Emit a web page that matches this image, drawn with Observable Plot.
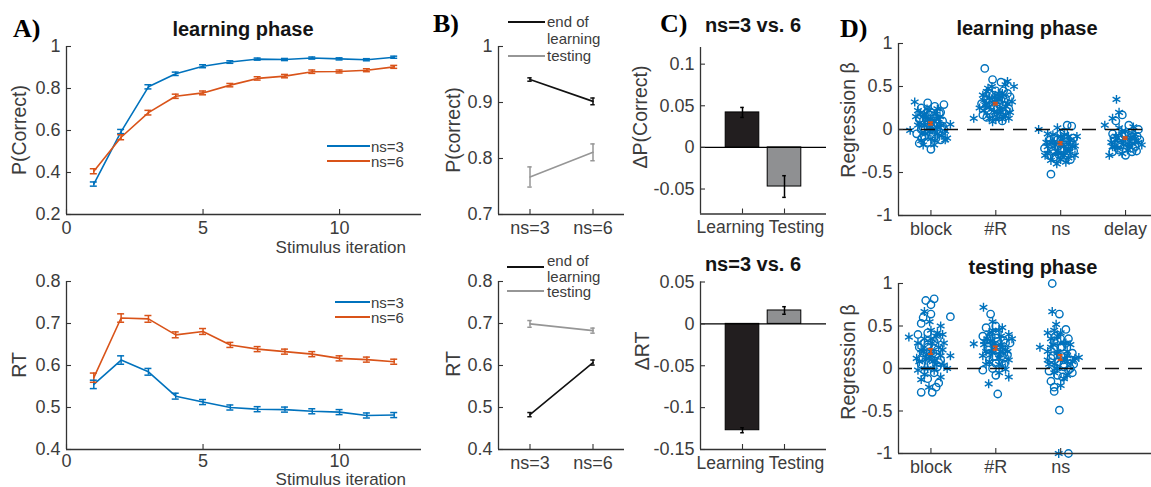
<!DOCTYPE html>
<html><head><meta charset="utf-8">
<script src="https://cdn.jsdelivr.net/npm/d3@7"></script>
<script src="https://cdn.jsdelivr.net/npm/@observablehq/plot@0.6"></script>
<style>
body{margin:0;background:#fff;}
#fig{position:relative;width:1151px;height:487px;overflow:hidden;font-family:"Liberation Sans",Arial,sans-serif;color:#3c3c3c;background:#fff;}
.abs{position:absolute;white-space:nowrap;line-height:1;}
.title{font-weight:bold;font-size:20px;color:#141414;transform:translate(-50%,-50%);}
.letter{font-family:"Liberation Serif","Times New Roman",serif;font-weight:bold;font-size:26px;color:#000;transform:translate(0,-50%);}
.ylab{font-size:19.5px;transform:translate(-50%,-50%) rotate(-90deg);}
.xlab{font-size:17px;transform:translate(-100%,-50%);}
.leg{font-size:15px;transform:translate(0,-50%);}
.legline{position:absolute;height:1.6px;}
</style></head><body><div id="fig"></div>
<script>
// ---------- data ----------
const iterations = [1,2,3,4,5,6,7,8,9,10,11,12];
const setSizes = ["ns=3", "ns=6"];
const pcNs3 = [0.345, 0.595, 0.808, 0.870, 0.906, 0.926, 0.940, 0.938, 0.945, 0.941, 0.937, 0.949];
const pcNs3Err = [0.010, 0.010, 0.010, 0.008, 0.007, 0.006, 0.005, 0.005, 0.005, 0.005, 0.005, 0.005];
const pcNs6 = [0.406, 0.568, 0.685, 0.763, 0.779, 0.816, 0.848, 0.859, 0.880, 0.881, 0.887, 0.903];
const pcNs6Err = [0.012, 0.012, 0.011, 0.010, 0.009, 0.008, 0.008, 0.008, 0.008, 0.007, 0.007, 0.007];
const rtNs3 = [0.555, 0.613, 0.585, 0.527, 0.513, 0.500, 0.496, 0.495, 0.491, 0.489, 0.481, 0.482];
const rtNs3Err = [0.010, 0.010, 0.008, 0.007, 0.006, 0.006, 0.006, 0.006, 0.006, 0.006, 0.006, 0.006];
const rtNs6 = [0.571, 0.713, 0.711, 0.673, 0.681, 0.649, 0.639, 0.633, 0.627, 0.617, 0.614, 0.609];
const rtNs6Err = [0.011, 0.010, 0.008, 0.007, 0.007, 0.006, 0.006, 0.006, 0.006, 0.006, 0.006, 0.006];

const phaseGroups = ["end of learning", "testing"];
const pcEndLearning = [0.941, 0.902];
const pcEndLearningErr = [0.003, 0.006];
const pcTesting = [0.767, 0.811];
const pcTestingErr = [0.018, 0.015];
const rtEndLearning = [0.483, 0.607];
const rtEndLearningErr = [0.005, 0.006];
const rtTesting = [0.699, 0.683];
const rtTestingErr = [0.008, 0.006];

const phaseLabels = ["Learning", "Testing"];
const dPc = [0.042, -0.047];
const dPcErr = [0.006, 0.013];
const dRt = [-0.127, 0.016];
const dRtErr = [0.003, 0.0045];

const regressorsLearn = ["block", "#R", "ns", "delay"];
const regressorsTest = ["block", "#R", "ns"];
const betaMeanLearn = [0.07, 0.30, -0.16, -0.10];
const betaSemLearn = [0.015, 0.012, 0.015, 0.012];
const betaMeanTest = [0.20, 0.24, 0.13];
const betaSemTest = [0.03, 0.02, 0.03];
// [offset from category, beta, marker (0 = circle, 1 = asterisk)]
const betaLearnBlock = [[-0.32,-0.01,1],[-0.25,0.32,1],[-0.05,0.31,0],[0.2,0.29,0],[0.0,-0.23,0],[0.3,0.06,1],[-0.2,0.22,1],[-0.15,0.25,0],[0.1,0.24,1],[0.15,0.2,0],[-0.1,0.18,1],[0.05,0.16,0],[-0.18,0.12,0],[0.12,0.12,1],[-0.05,0.1,1],[0.08,0.08,0],[-0.2,0.05,1],[0.18,0.04,0],[-0.12,0.02,0],[0.02,0.0,1],[0.22,-0.02,1],[-0.22,-0.05,0],[0.25,-0.1,1],[0.15,-0.12,0],[-0.15,-0.13,1],[-0.05,-0.15,0],[0.05,-0.18,1],[-0.1,-0.08,0],[0.1,-0.05,1],[0.0,0.2,0],[-0.08,0.14,1],[0.14,0.15,1],[-0.17,0.08,1],[0.03,0.05,0],[-0.02,-0.03,1],[0.2,0.0,0],[-0.23,0.15,1],[0.08,-0.1,0],[-0.12,-0.18,1],[0.18,0.1,0],[0.0,0.12,1],[-0.06,0.24,1],[0.06,0.27,0],[0.22,-0.12,1],[-0.18,-0.16,0],[0.1,0.02,1],
  [-0.15,0.0,0],[-0.1,0.05,1],[-0.05,0.08,0],[0.0,0.03,1],[0.05,0.1,1],[0.1,0.07,0],[0.15,0.05,1],[-0.12,0.15,1],[-0.02,0.17,0],[0.08,0.18,1],[0.12,-0.02,0],[-0.08,-0.05,1],[0.02,-0.08,0],[-0.14,-0.1,0],[0.06,-0.13,1],[-0.03,0.22,1],[0.04,0.13,0],[-0.07,0.11,0],[0.13,0.19,0],[-0.16,0.19,1],[0.0,-0.11,1],[0.09,0.0,1],[-0.1,-0.01,0],[0.17,-0.07,1]];
const betaLearnR = [[-0.17,0.71,0],[-0.34,0.13,1],[0.28,0.5,1],[-0.05,0.58,0],[0.08,0.55,0],[0.2,0.24,0],[0.15,0.52,1],[-0.12,0.48,1],[0.0,0.45,0],[-0.2,0.4,1],[0.1,0.42,1],[0.22,0.38,0],[-0.15,0.35,0],[0.05,0.36,1],[-0.05,0.32,1],[0.18,0.3,1],[-0.22,0.3,0],[0.12,0.28,0],[-0.1,0.26,1],[0.02,0.24,0],[0.25,0.32,1],[-0.18,0.22,1],[0.08,0.2,1],[-0.08,0.18,0],[0.15,0.16,1],[-0.14,0.14,0],[0.0,0.12,1],[0.1,0.1,0],[-0.05,0.09,1],[0.2,0.13,1],[-0.2,0.17,0],[0.05,0.3,0],[-0.02,0.38,1],[0.12,0.45,0],[-0.1,0.42,0],[0.22,0.2,1],[-0.25,0.25,1],[0.03,0.18,1],[0.15,0.36,0],[-0.16,0.28,1],[0.07,0.15,0],[-0.06,0.5,1],[0.18,0.56,1],
  [-0.15,0.3,1],[-0.08,0.28,0],[0.0,0.32,1],[0.08,0.34,0],[0.15,0.27,1],[-0.12,0.22,0],[-0.02,0.2,1],[0.06,0.24,1],[0.12,0.2,0],[-0.18,0.34,1],[-0.05,0.4,0],[0.04,0.42,1],[0.1,0.38,1],[-0.1,0.36,1],[0.0,0.15,0],[-0.1,0.13,1],[0.1,0.12,1],[0.18,0.42,0],[-0.03,0.26,0],[0.03,0.35,1],[-0.14,0.44,1],[0.16,0.22,0]];
const betaLearnNs = [[-0.34,0.0,1],[-0.15,-0.52,0],[0.25,-0.08,1],[0.22,-0.19,1],[0.1,0.05,0],[0.17,0.04,0],[-0.05,0.02,1],[-0.2,-0.05,1],[0.05,-0.03,0],[-0.1,-0.1,0],[0.12,-0.08,1],[-0.22,-0.15,1],[0.0,-0.12,1],[0.15,-0.14,0],[-0.15,-0.2,0],[0.05,-0.2,1],[-0.05,-0.25,1],[0.2,-0.25,0],[-0.2,-0.28,1],[0.1,-0.3,0],[-0.1,-0.32,0],[0.0,-0.35,1],[0.15,-0.35,0],[-0.15,-0.36,1],[0.08,-0.38,1],[-0.02,-0.3,0],[0.22,-0.3,1],[-0.25,-0.22,0],[0.03,-0.16,0],[-0.08,-0.18,1],[0.18,-0.2,1],[-0.12,-0.06,1],[0.08,-0.1,0],[-0.18,-0.12,0],[0.0,-0.05,0],[0.12,-0.22,1],[-0.06,-0.4,1],[0.2,-0.1,0],[-0.24,-0.3,1],[0.05,-0.27,1],
  [-0.15,-0.15,1],[-0.08,-0.2,0],[0.0,-0.18,1],[0.08,-0.15,0],[0.14,-0.25,1],[-0.12,-0.25,0],[-0.03,-0.28,1],[0.05,-0.3,1],[-0.18,-0.3,0],[0.1,-0.2,0],[0.0,-0.08,1],[-0.1,-0.14,1],[0.06,-0.06,1],[-0.05,-0.12,0],[0.15,-0.12,1],[-0.2,-0.2,1],[0.02,-0.24,0],[-0.07,-0.34,0],[0.12,-0.33,1],[0.18,-0.16,0]];
const betaLearnDelay = [[-0.14,0.35,1],[-0.32,0.05,1],[0.0,-0.3,0],[-0.1,0.2,1],[-0.05,0.17,0],[-0.2,0.13,1],[-0.15,0.1,0],[0.05,0.05,0],[0.12,0.03,1],[0.2,0.0,0],[-0.1,0.02,1],[0.0,-0.02,1],[-0.2,-0.05,0],[0.15,-0.06,1],[-0.05,-0.08,0],[0.08,-0.1,1],[-0.15,-0.12,1],[0.22,-0.12,0],[0.0,-0.14,0],[-0.22,-0.15,1],[0.1,-0.16,1],[-0.08,-0.18,0],[0.25,-0.18,1],[0.15,-0.2,0],[-0.12,-0.22,1],[0.03,-0.24,1],[-0.2,-0.26,0],[0.1,-0.26,0],[-0.05,-0.28,1],[-0.25,-0.3,1],[0.18,-0.08,0],[-0.02,-0.06,0],[0.06,-0.18,1],[-0.17,-0.2,1],[0.12,-0.12,0],[-0.1,-0.1,0],
  [-0.15,-0.08,1],[-0.08,-0.12,0],[0.0,-0.1,1],[0.08,-0.14,0],[0.15,-0.1,1],[-0.12,-0.16,0],[-0.03,-0.18,1],[0.05,-0.2,1],[0.12,-0.22,0],[-0.18,-0.1,0],[0.0,-0.05,0],[-0.06,-0.02,1],[0.1,-0.04,1],[0.2,-0.15,1],[-0.1,-0.24,0],[0.03,-0.12,0],[-0.2,-0.2,1],[0.17,-0.25,0]];
const betaTestBlock = [[0.05,0.82,0],[-0.08,0.8,0],[0.0,0.75,0],[-0.1,0.67,1],[0.0,0.64,0],[0.3,0.61,0],[-0.12,0.6,0],[-0.15,0.53,0],[0.15,0.5,1],[-0.34,0.37,1],[0.3,0.15,1],[-0.15,-0.28,0],[0.02,-0.28,0],[0.08,-0.22,0],[0.12,-0.17,0],[-0.03,-0.22,1],[-0.15,-0.13,1],[0.0,0.45,1],[0.1,0.42,1],[-0.2,0.4,0],[0.18,0.4,1],[-0.1,0.35,1],[0.05,0.32,0],[-0.2,0.3,1],[0.2,0.3,1],[-0.05,0.28,0],[0.12,0.25,1],[-0.15,0.22,1],[0.0,0.2,1],[0.08,0.17,0],[-0.22,0.12,1],[0.15,0.1,0],[-0.08,0.1,1],[0.03,0.08,1],[-0.15,0.05,0],[0.2,0.04,1],[0.1,0.02,0],[-0.05,0.0,1],[0.25,0.0,1],[-0.2,-0.02,1],[0.05,-0.05,0],[-0.1,-0.07,1],[0.15,-0.1,1],[-0.05,-0.12,0],[0.0,0.15,1],[-0.12,0.18,0],[0.1,0.35,0],[-0.02,0.55,1],[0.08,0.05,1],[-0.18,0.25,0],
  [-0.12,0.2,1],[-0.05,0.25,0],[0.02,0.3,1],[0.1,0.22,0],[0.15,0.15,1],[-0.15,0.12,0],[-0.03,0.12,1],[0.06,0.1,1],[-0.1,0.3,0],[0.08,0.38,1],[-0.05,0.42,0],[0.0,0.05,0],[-0.1,0.0,1],[0.12,0.07,0],[0.18,0.22,1],[-0.18,0.08,1],[0.03,0.18,0],[-0.07,0.16,1],[0.05,-0.02,1],[0.0,0.35,1]];
const betaTestR = [[-0.19,0.72,1],[-0.08,0.64,0],[-0.34,0.29,1],[-0.11,-0.18,1],[0.03,-0.3,0],[0.2,-0.1,1],[0.18,0.16,0],[0.15,-0.01,1],[-0.05,0.55,1],[0.0,0.5,0],[0.1,0.48,1],[-0.15,0.48,0],[0.05,0.45,1],[-0.1,0.42,1],[0.2,0.4,1],[0.25,0.35,1],[-0.2,0.38,0],[0.0,0.36,0],[0.12,0.33,0],[-0.08,0.32,1],[-0.18,0.28,1],[0.08,0.28,1],[0.0,0.25,1],[-0.12,0.22,0],[0.15,0.22,1],[-0.05,0.18,1],[0.1,0.15,0],[-0.2,0.15,1],[0.05,0.12,1],[-0.1,0.1,0],[0.2,0.1,1],[0.0,0.06,0],[-0.15,0.05,1],[0.1,0.03,1],[-0.05,0.0,0],[-0.2,-0.02,0],[0.05,-0.05,1],[0.0,-0.08,0],[0.22,0.3,0],[-0.02,0.3,1],[0.13,0.05,0],[-0.07,0.38,0],[0.07,0.2,1],[-0.13,0.35,1],
  [-0.12,0.25,0],[-0.05,0.28,1],[0.02,0.22,0],[0.1,0.25,1],[0.15,0.3,0],[-0.15,0.2,1],[-0.03,0.14,0],[0.06,0.16,1],[-0.1,0.35,0],[0.08,0.38,1],[-0.05,0.45,1],[0.0,0.4,0],[-0.1,0.08,1],[0.12,0.12,0],[0.18,0.2,1],[-0.18,0.32,1],[0.03,0.32,0],[-0.07,0.2,1],[0.05,0.05,1]];
const betaTestNs = [[-0.13,1.0,0],[-0.13,0.67,1],[-0.02,0.64,0],[-0.07,0.52,1],[-0.32,0.25,1],[-0.02,-0.49,0],[-0.03,-1.0,1],[0.12,-1.0,0],[-0.1,-0.27,0],[-0.1,-0.22,0],[-0.15,-0.15,0],[0.0,-0.2,1],[0.05,-0.12,1],[-0.05,-0.08,0],[0.1,-0.08,1],[0.18,-0.05,0],[-0.18,-0.03,0],[0.28,0.13,1],[0.22,0.12,1],[-0.2,0.42,1],[-0.1,0.45,1],[0.0,0.42,1],[0.08,0.46,0],[0.12,0.35,0],[-0.15,0.35,1],[-0.05,0.32,0],[0.05,0.3,1],[-0.12,0.28,1],[0.15,0.28,1],[0.0,0.25,0],[-0.2,0.2,1],[0.1,0.2,1],[-0.05,0.18,1],[0.18,0.18,0],[-0.15,0.12,0],[0.0,0.1,1],[0.1,0.08,1],[-0.1,0.05,1],[0.05,0.02,0],[-0.05,0.0,1],[0.15,0.0,0],[-0.2,0.1,1],[0.2,0.05,0],[0.03,0.14,0],[-0.08,0.38,0],
  [-0.12,0.15,0],[-0.05,0.2,1],[0.02,0.25,0],[0.1,0.15,1],[0.15,0.1,0],[-0.15,0.25,1],[-0.03,0.08,0],[0.06,0.12,1],[-0.1,0.32,0],[0.08,0.3,1],[-0.05,0.38,1],[0.0,0.35,0],[-0.1,-0.05,1],[0.12,-0.02,0],[0.18,0.08,1],[-0.18,0.05,1],[0.03,-0.1,0],[-0.07,0.0,1],[0.05,0.05,0]];

// ---------- styling ----------
const blue = "#0072BD", orange = "#D95319", darkLine = "#111111", grayLine = "#969696";
const barDark = "#221e1f", barGray = "#8f9092";
const axisColor = "#333333";
const fig = document.getElementById("fig");

function panel(o) {
  const pw = o.width - o.ml - o.mr, ph = o.height - o.mt - o.mb;
  const px = (o.xd[1] - o.xd[0]) / pw;
  const py = (o.yd[1] - o.yd[0]) / ph;
  const fmt = d => String(d);
  const xFmt = o.xFmt || fmt;
  const pad = o.xPad || 7;
  const xAxes = o.xLabelDx
    ? o.xTicks.map((t, i) => Plot.axisX({ticks: [t], tickSize: 0, tickPadding: pad, tickFormat: xFmt, fontSize: o.xFontSize || 18, label: null, dx: o.xLabelDx[i]}))
    : [Plot.axisX({ticks: o.xTicks, tickSize: 0, tickPadding: pad, tickFormat: xFmt, fontSize: 18, label: null})];
  const svg = Plot.plot({
    width: o.width, height: o.height,
    marginLeft: o.ml, marginRight: o.mr, marginTop: o.mt, marginBottom: o.mb,
    x: {domain: o.xd}, y: {domain: o.yd},
    color: o.color || {},
    style: {fontFamily: "Liberation Sans, Arial, sans-serif", fontSize: "18px", color: "#3c3c3c", background: "none", overflow: "visible"},
    marks: [
      ...o.marks(px, py),
      Plot.ruleX(o.xTicks, {x: d => d, y1: o.yd[0], y2: o.yd[0] + 5 * py, stroke: axisColor, strokeWidth: 1.1}),
      Plot.ruleY(o.yTicks, {y: d => d, x1: o.xd[0], x2: o.xd[0] + 5 * px, stroke: axisColor, strokeWidth: 1.1}),
      Plot.ruleX([o.xd[0]], {stroke: axisColor, strokeWidth: 1.3}),
      Plot.ruleY([o.yd[0]], {stroke: axisColor, strokeWidth: 1.3}),
      ...xAxes,
      Plot.axisY({ticks: o.yTicks, tickSize: 0, tickPadding: 6, tickFormat: o.yFmt || fmt, fontSize: 18, label: null})
    ]
  });
  svg.style.position = "absolute";
  svg.style.left = o.left + "px";
  svg.style.top = o.top + "px";
  fig.appendChild(svg);
}

function errMarks(rows, xKey, stroke, capPx, px, sw) {
  const c = capPx * px;
  return [
    Plot.ruleX(rows, {x: xKey, y1: d => d.v - d.e, y2: d => d.v + d.e, stroke, strokeWidth: sw}),
    Plot.ruleY(rows, {y: d => d.v - d.e, x1: d => d[xKey] - c, x2: d => d[xKey] + c, stroke, strokeWidth: sw}),
    Plot.ruleY(rows, {y: d => d.v + d.e, x1: d => d[xKey] - c, x2: d => d[xKey] + c, stroke, strokeWidth: sw})
  ];
}

// ---------- Panel A ----------
function iterRows(a, ae, b, be) {
  return iterations.flatMap((it, i) => [
    {it, v: a[i], e: ae[i], s: setSizes[0]},
    {it, v: b[i], e: be[i], s: setSizes[1]}
  ]);
}
const rowsPc = iterRows(pcNs3, pcNs3Err, pcNs6, pcNs6Err);
const rowsRt = iterRows(rtNs3, rtNs3Err, rtNs6, rtNs6Err);
const colorA = {domain: setSizes, range: [blue, orange]};
const marksA = rows => (px, py) => [
  Plot.line(rows, {x: "it", y: "v", z: "s", stroke: "s", strokeWidth: 1.6}),
  ...errMarks(rows, "it", "s", 3.5, px, 1.5)
];
panel({left: 0, top: 0, width: 430, height: 240, ml: 66, mr: 9, mt: 46, mb: 26,
  xd: [0, 13], yd: [0.2, 1], xTicks: [0, 5, 10], yTicks: [0.2, 0.4, 0.6, 0.8, 1],
  color: colorA, marks: marksA(rowsPc)});
panel({left: 0, top: 240, width: 430, height: 247, ml: 66, mr: 9, mt: 41, mb: 38,
  xd: [0, 13], yd: [0.4, 0.8], xTicks: [0, 5, 10], yTicks: [0.4, 0.5, 0.6, 0.7, 0.8], xPad: 5,
  color: colorA, marks: marksA(rowsRt)});

// ---------- Panel B ----------
function groupRows(a, ae, b, be) {
  return setSizes.flatMap((s, i) => [
    {pos: i + 1, v: a[i], e: ae[i], g: phaseGroups[0]},
    {pos: i + 1, v: b[i], e: be[i], g: phaseGroups[1]}
  ]);
}
const rowsBpc = groupRows(pcEndLearning, pcEndLearningErr, pcTesting, pcTestingErr);
const rowsBrt = groupRows(rtEndLearning, rtEndLearningErr, rtTesting, rtTestingErr);
const colorB = {domain: phaseGroups, range: [darkLine, grayLine]};
const marksB = rows => (px, py) => [
  Plot.line(rows, {x: "pos", y: "v", z: "g", stroke: "g", strokeWidth: 1.6}),
  ...errMarks(rows, "pos", "g", 2.2, px, 1.5)
];
const xFmtB = d => setSizes[d - 1] || "";
panel({left: 430, top: 0, width: 200, height: 240, ml: 68, mr: 6, mt: 46, mb: 26,
  xd: [0.5, 2.5], yd: [0.7, 1], xTicks: [1, 2], yTicks: [0.7, 0.8, 0.9, 1], xFmt: xFmtB,
  color: colorB, marks: marksB(rowsBpc)});
panel({left: 430, top: 240, width: 200, height: 247, ml: 68, mr: 6, mt: 41, mb: 38,
  xd: [0.5, 2.5], yd: [0.4, 0.8], xTicks: [1, 2], yTicks: [0.4, 0.5, 0.6, 0.7, 0.8], xFmt: xFmtB,
  color: colorB, marks: marksB(rowsBrt)});

// ---------- Panel C ----------
const rowsCpc = phaseLabels.map((p, i) => ({pos: i + 1, v: dPc[i], e: dPcErr[i], p}));
const rowsCrt = phaseLabels.map((p, i) => ({pos: i + 1, v: dRt[i], e: dRtErr[i], p}));
const colorC = {domain: phaseLabels, range: [barDark, barGray]};
const marksC = rows => (px, py) => [
  Plot.rect(rows, {x1: d => d.pos - 0.4, x2: d => d.pos + 0.4, y1: 0, y2: "v", fill: "p", stroke: "#000", strokeWidth: 1}),
  Plot.ruleY([0], {stroke: "#000", strokeWidth: 1.3}),
  ...errMarks(rows, "pos", "#000", 1.8, px, 1.5)
];
const xFmtC = d => phaseLabels[d - 1] || "";
panel({left: 630, top: 0, width: 200, height: 240, ml: 70, mr: 4, mt: 47, mb: 26.5,
  xd: [0, 3], yd: [-0.08, 0.12], xTicks: [1, 2], yTicks: [-0.05, 0, 0.05, 0.1], xFmt: xFmtC,
  xLabelDx: [-12, 12], xFontSize: 17.5,
  color: colorC, marks: marksC(rowsCpc)});
panel({left: 630, top: 240, width: 200, height: 247, ml: 70, mr: 4, mt: 41.5, mb: 38,
  xd: [0, 3], yd: [-0.15, 0.05], xTicks: [1, 2], yTicks: [-0.15, -0.1, -0.05, 0, 0.05], xFmt: xFmtC,
  xLabelDx: [-12, 12], xFontSize: 17.5,
  color: colorC, marks: marksC(rowsCrt)});

// ---------- Panel D ----------
function betaRows(sets) {
  return sets.flatMap((arr, i) => arr.map(([dx, b, m]) => ({x: i + 1 + dx, b, m})));
}
const rowsDl = betaRows([betaLearnBlock, betaLearnR, betaLearnNs, betaLearnDelay]);
const rowsDt = betaRows([betaTestBlock, betaTestR, betaTestNs]);
const meansDl = regressorsLearn.map((r, i) => ({pos: i + 1, v: betaMeanLearn[i], e: betaSemLearn[i]}));
const meansDt = regressorsTest.map((r, i) => ({pos: i + 1, v: betaMeanTest[i], e: betaSemTest[i]}));
const marksD = (rows, means) => (px, py) => [
  Plot.dot(rows.filter(d => !d.m), {x: "x", y: "b", r: 3.7, stroke: blue, strokeWidth: 1.4, fill: "none"}),
  Plot.dot(rows.filter(d => d.m), {x: "x", y: "b", r: 4.2, symbol: "asterisk", stroke: blue, strokeWidth: 1.4}),
  Plot.ruleY([0], {stroke: "#111", strokeWidth: 1.5, strokeDasharray: "14,9"}),
  ...errMarks(means, "pos", orange, 2.5, px, 1.8)
];
panel({left: 830, top: 0, width: 321, height: 240, ml: 68, mr: 0, mt: 43, mb: 25,
  xd: [0.5, 4.4], yd: [-1, 1], xTicks: [1, 2, 3, 4], yTicks: [-1, -0.5, 0, 0.5, 1],
  xFmt: d => regressorsLearn[d - 1] || "", marks: marksD(rowsDl, meansDl)});
panel({left: 830, top: 240, width: 321, height: 247, ml: 68, mr: 0, mt: 43, mb: 34,
  xd: [0.5, 4.4], yd: [-1, 1], xTicks: [1, 2, 3], yTicks: [-1, -0.5, 0, 0.5, 1],
  xFmt: d => regressorsTest[d - 1] || "", marks: marksD(rowsDt, meansDt)});

// ---------- text overlays ----------
function txt(cls, text, x, y) {
  const d = document.createElement("div");
  d.className = "abs " + cls;
  d.textContent = text;
  d.style.left = x + "px";
  d.style.top = y + "px";
  fig.appendChild(d);
}
function legLine(x1, x2, y, color) {
  const d = document.createElement("div");
  d.className = "legline";
  d.style.left = x1 + "px";
  d.style.width = (x2 - x1) + "px";
  d.style.top = (y - 0.8) + "px";
  d.style.background = color;
  fig.appendChild(d);
}
txt("letter", "A)", 13, 29);
txt("letter", "B)", 433, 24);
txt("letter", "C)", 660, 24);
txt("letter", "D)", 840, 29);
txt("title", "learning phase", 243, 29);
txt("title", "ns=3 vs. 6", 753, 25);
txt("title", "ns=3 vs. 6", 753, 264);
txt("title", "learning phase", 1027, 28);
txt("title", "testing phase", 1033, 267);
txt("ylab", "P(Correct)", 20, 130);
txt("ylab", "RT", 20, 365);
txt("ylab", "P(correct)", 454, 130);
txt("ylab", "RT", 454, 364);
txt("ylab", "ΔP(Correct)", 641, 117);
txt("ylab", "ΔRT", 643, 351);
txt("ylab", "Regression β", 849, 120);
txt("ylab", "Regression β", 849, 362);
txt("xlab", "Stimulus iteration", 406, 247);
txt("xlab", "Stimulus iteration", 406, 478.5);
// legends
legLine(327, 370, 146, blue); txt("leg", setSizes[0], 371, 146);
legLine(327, 370, 161, orange); txt("leg", setSizes[1], 371, 161);
legLine(335, 370, 302, blue); txt("leg", setSizes[0], 371, 302);
legLine(335, 370, 317, orange); txt("leg", setSizes[1], 371, 317);
legLine(508, 545, 22, darkLine); txt("leg", "end of", 547, 21); txt("leg", "learning", 547, 38);
legLine(508, 545, 56, grayLine); txt("leg", "testing", 547, 55);
legLine(507, 544, 267, darkLine); txt("leg", "end of", 547, 260); txt("leg", "learning", 547, 276);
legLine(507, 544, 291, grayLine); txt("leg", "testing", 547, 291);
</script></body></html>
